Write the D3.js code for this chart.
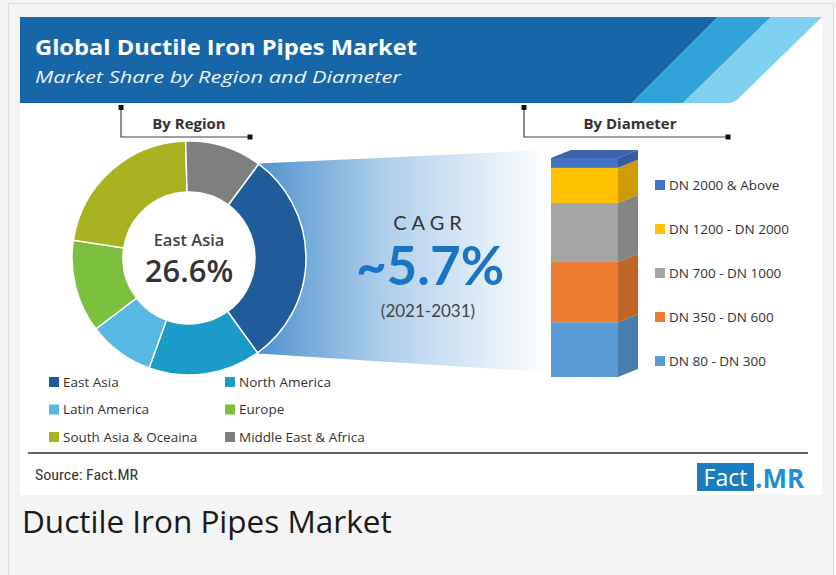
<!DOCTYPE html>
<html lang="en">
<head>
<meta charset="UTF-8">
<title>Ductile Iron Pipes Market</title>
<script src="https://cdn.jsdelivr.net/npm/d3@7"></script>
<style>
    body { margin: 0; background: #f4f4f4; }
    svg text { font-family: "Open Sans", sans-serif; }
    .legend text { font-size: 13.5px; fill: #333; }
</style>
</head>
<body>
<svg id="chart" width="836" height="575"></svg>
<script>
    // region share
    var regions = ["East Asia", "North America", "Latin America", "Europe", "South Asia & Oceaina", "Middle East & Africa"]
    var regionShare = [29.9, 15.5, 9.1, 12.8, 22.1, 10.6]
    var regionColors = ["#1f5c99", "#1b9bc7", "#56b8e3", "#7cbf3c", "#a8b120", "#7f7f7f"]

    // diameter share, bottom to top of the stacked bar
    var diameters = ["DN 80 - DN 300", "DN 350 - DN 600", "DN 700 - DN 1000", "DN 1200 - DN 2000", "DN 2000 & Above"]
    var diameterShare = [25, 27.5, 27, 16, 4.5]
    var diameterColors = ["#5b9bd5", "#ed7d31", "#a5a5a5", "#ffc000", "#4472c4"]

    var svg = d3.select("#chart")

    // outer frame + white card
    svg.append("rect").attr("x", 8.5).attr("y", 3.5).attr("width", 825).attr("height", 580)
        .attr("fill", "#f4f4f4").attr("stroke", "#dcdcdc")
    svg.append("rect").attr("x", 20).attr("y", 17).attr("width", 802).attr("height", 478).attr("fill", "#fff")

    // header band with stripes
    svg.append("path").attr("d", "M20,17 L718,17 L632,103 L20,103 Z").attr("fill", "#1766a7")
    svg.append("path").attr("d", "M718,17 L771,17 L683,103 L632,103 Z").attr("fill", "#32a3d9")
    svg.append("path").attr("d", "M771,17 L822,17 L740,97 Q735,103 727,103 L683,103 Z").attr("fill", "#80d0f0")

    svg.append("text").attr("x", 35).attr("y", 55).text("Global Ductile Iron Pipes Market")
        .attr("fill", "#fff").style("font-size", "22px").style("font-weight", "bold")
        .attr("textLength", 382).attr("lengthAdjust", "spacingAndGlyphs")
    svg.append("text").attr("x", 35).attr("y", 83).text("Market Share by Region and Diameter")
        .attr("fill", "#e8f2fa").style("font-size", "17px").style("font-style", "italic")
        .attr("textLength", 366).attr("lengthAdjust", "spacingAndGlyphs")

    // bracket labels
    function bracket(x0, x1, label, cx) {
        var g = svg.append("g")
        g.append("path").attr("d", "M" + x0 + ",108 L" + x0 + ",137 L" + x1 + ",137")
            .attr("fill", "none").attr("stroke", "#444").attr("stroke-width", 1.2)
        g.append("rect").attr("x", x0 - 2.5).attr("y", 105).attr("width", 5).attr("height", 5).attr("fill", "#111")
        g.append("rect").attr("x", x1 - 2.5).attr("y", 134.5).attr("width", 5).attr("height", 5).attr("fill", "#111")
        g.append("text").attr("x", cx).attr("y", 129).attr("text-anchor", "middle").text(label)
            .attr("fill", "#333").style("font-size", "15px").style("font-weight", "bold")
    }
    bracket(121, 250, "By Region", 189)
    bracket(524, 728, "By Diameter", 630)

    // donut
    var cx = 189, cy = 258, rOut = 117, rIn = 66
    var start = 36.5 * Math.PI / 180
    var pie = d3.pie().sort(null).startAngle(start).endAngle(start + 2 * Math.PI)
    var arcs = pie(regionShare)
    var arc = d3.arc().innerRadius(rIn).outerRadius(rOut)

    // gradient funnel coming out of the East Asia slice
    var grad = svg.append("defs").append("linearGradient").attr("id", "fan")
        .attr("gradientUnits", "userSpaceOnUse").attr("x1", 250).attr("x2", 548).attr("y1", 0).attr("y2", 0)
    grad.append("stop").attr("offset", 0).attr("stop-color", "#4a8fcc")
    grad.append("stop").attr("offset", 0.45).attr("stop-color", "#aecfec")
    grad.append("stop").attr("offset", 1).attr("stop-color", "#ffffff")
    var a0 = arcs[0].startAngle, a1 = arcs[0].endAngle
    var p0 = [cx + rOut * Math.sin(a0), cy - rOut * Math.cos(a0)]
    var p1 = [cx + rOut * Math.sin(a1), cy - rOut * Math.cos(a1)]
    svg.append("path").attr("fill", "url(#fan)")
        .attr("d", "M" + (p0[0] - 10) + "," + p0[1] + " L546,150 L546,372 L" + (p1[0] - 10) + "," + p1[1] + " Z")

    var donut = svg.append("g").attr("transform", "translate(" + cx + "," + cy + ")")
    donut.selectAll("path").data(arcs).enter().append("path")
        .attr("d", arc)
        .attr("fill", function (d, i) { return regionColors[i] })
        .attr("stroke", "#fff").attr("stroke-width", 1.5)
    donut.append("circle").attr("r", rIn - 0.5).attr("fill", "#fff")
    donut.append("text").attr("y", -12).attr("text-anchor", "middle").text(regions[0])
        .attr("fill", "#444").style("font-size", "16.5px").style("font-weight", 600)
    donut.append("text").attr("y", 24).attr("text-anchor", "middle").text("26.6%")
        .attr("fill", "#333").style("font-size", "31px").style("font-weight", 600)

    // CAGR block
    svg.append("text").attr("x", 430).attr("y", 230).attr("text-anchor", "middle").text("CAGR")
        .attr("fill", "#333").style("font-size", "20px").style("letter-spacing", "5px")
        .style("font-family", "Lato, sans-serif")
    svg.append("text").attr("x", 430).attr("y", 285).attr("text-anchor", "middle").text("~5.7%")
        .attr("fill", "#1a74c4").style("font-size", "53px").style("font-weight", "bold")
        .style("font-family", "Lato, sans-serif")
    svg.append("text").attr("x", 428).attr("y", 317).attr("text-anchor", "middle").text("(2021-2031)")
        .attr("fill", "#444").style("font-size", "17px")
        .style("font-family", "Lato, sans-serif")

    // 3D stacked bar
    var y = d3.scaleLinear().domain([0, 100]).range([377, 158])
    var bx0 = 551, bx1 = 618, dx = 20, dy = -8
    var stack = []
    var acc = 0
    diameterShare.forEach(function (v, i) { stack.push({ lo: acc, hi: acc + v, i: i }); acc += v })
    var bar = svg.append("g")
    bar.selectAll(".front").data(stack).enter().append("rect")
        .attr("x", bx0).attr("width", bx1 - bx0)
        .attr("y", function (d) { return y(d.hi) })
        .attr("height", function (d) { return y(d.lo) - y(d.hi) })
        .attr("fill", function (d) { return diameterColors[d.i] })
    bar.selectAll(".side").data(stack).enter().append("path")
        .attr("d", function (d) {
            return "M" + bx1 + "," + y(d.lo) + " L" + (bx1 + dx) + "," + (y(d.lo) + dy) +
                " L" + (bx1 + dx) + "," + (y(d.hi) + dy) + " L" + bx1 + "," + y(d.hi) + " Z"
        })
        .attr("fill", function (d) { return d3.color(diameterColors[d.i]).darker(0.6) })
    bar.append("path")
        .attr("d", "M" + bx0 + "," + y(100) + " L" + bx1 + "," + y(100) + " L" + (bx1 + dx) + "," + (y(100) + dy) +
            " L" + (bx0 + dx) + "," + (y(100) + dy) + " Z")
        .attr("fill", d3.color(diameterColors[4]).darker(0.4))

    // diameter legend (top item first)
    var dl = svg.append("g").attr("class", "legend")
    var dOrder = d3.range(diameters.length).reverse()
    dOrder.forEach(function (k, j) {
        var ly = 185 + j * 44
        dl.append("rect").attr("x", 655).attr("y", ly - 5).attr("width", 10).attr("height", 10).attr("fill", diameterColors[k])
        dl.append("text").attr("x", 669).attr("y", ly + 4.5).text(diameters[k])
    })

    // region legend, two columns
    var rl = svg.append("g").attr("class", "legend")
    regions.forEach(function (r, i) {
        var lx = i % 2 === 0 ? 49 : 225
        var ly = 382 + Math.floor(i / 2) * 27.5
        rl.append("rect").attr("x", lx).attr("y", ly - 5).attr("width", 10).attr("height", 10).attr("fill", regionColors[i])
        rl.append("text").attr("x", lx + 14).attr("y", ly + 4.5).text(r)
    })

    // footer
    svg.append("line").attr("x1", 28).attr("x2", 808).attr("y1", 453).attr("y2", 453)
        .attr("stroke", "#333").attr("stroke-width", 1.3)
    svg.append("text").attr("x", 35).attr("y", 480).text("Source: Fact.MR")
        .attr("fill", "#333").style("font-size", "14px")
        .style("font-family", "'Liberation Sans Narrow', 'Roboto Condensed', sans-serif")
        .attr("textLength", 103).attr("lengthAdjust", "spacingAndGlyphs")
    svg.append("rect").attr("x", 697).attr("y", 463).attr("width", 57).attr("height", 28).attr("fill", "#1a7dc0")
    svg.append("text").attr("x", 725.5).attr("y", 486).attr("text-anchor", "middle").text("Fact")
        .attr("fill", "#fff").style("font-size", "23px")
    svg.append("text").attr("x", 755).attr("y", 488).text(".MR")
        .attr("fill", "#1f8fd3").style("font-size", "26px").style("font-weight", "bold")

    // caption under the card
    svg.append("text").attr("x", 22).attr("y", 533).text("Ductile Iron Pipes Market")
        .attr("fill", "#1a1a1a").style("font-size", "31.5px")
</script>
</body>
</html>
